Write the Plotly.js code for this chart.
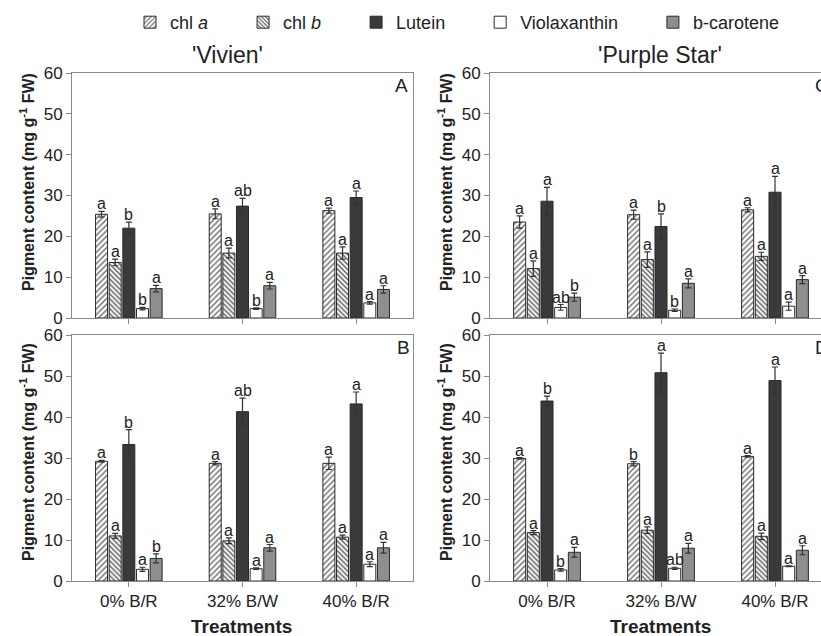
<!DOCTYPE html>
<html><head><meta charset="utf-8">
<script src="https://cdn.plot.ly/plotly-3.0.1.min.js"></script>
<style>html,body{margin:0;padding:0;overflow:hidden;background:#fff}#chart{width:840px;height:636px}</style>
</head><body><div id="chart"></div>
<script>
// ---------------- DATA ----------------
const categories = ['0% B/R', '32% B/W', '40% B/R'];
const pigmentNames = ['chl <i>a</i>', 'chl <i>b</i>', 'Lutein', 'Violaxanthin', 'b-carotene'];

// Panel A ('Vivien', top)
const A_chla = [25.4, 25.5, 26.3];   const A_chla_err = [0.7, 1.2, 0.6];
const A_chlb = [13.6, 15.9, 15.9];   const A_chlb_err = [0.8, 1.2, 1.5];
const A_lut  = [22.0, 27.4, 29.5];   const A_lut_err  = [1.5, 1.9, 1.6];
const A_vio  = [2.3, 2.3, 3.7];      const A_vio_err  = [0.3, 0.2, 0.3];
const A_bcar = [7.2, 7.9, 7.0];      const A_bcar_err = [0.8, 0.8, 0.9];
const A_letters = [['a','a','a'], ['a','a','a'], ['b','ab','a'], ['b','b','a'], ['a','a','a']];

// Panel C ('Purple Star', top)
const C_chla = [23.5, 25.3, 26.5];   const C_chla_err = [1.5, 1.1, 0.5];
const C_chlb = [12.1, 14.3, 15.1];   const C_chlb_err = [1.9, 1.9, 1.0];
const C_lut  = [28.6, 22.4, 30.8];   const C_lut_err  = [3.4, 3.1, 3.9];
const C_vio  = [2.6, 1.9, 2.9];      const C_vio_err  = [0.7, 0.3, 1.0];
const C_bcar = [5.1, 8.5, 9.4];      const C_bcar_err = [1.0, 1.1, 1.0];
const C_letters = [['a','a','a'], ['a','a','a'], ['a','b','a'], ['ab','b','a'], ['b','a','a']];

// Panel B ('Vivien', bottom)
const B_chla = [29.2, 28.7, 28.7];   const B_chla_err = [0.2, 0.4, 1.5];
const B_chlb = [11.0, 9.8, 10.7];    const B_chlb_err = [0.6, 0.7, 0.5];
const B_lut  = [33.3, 41.3, 43.2];   const B_lut_err  = [3.6, 3.3, 2.9];
const B_vio  = [2.85, 3.0, 4.1];     const B_vio_err  = [0.5, 0.2, 0.6];
const B_bcar = [5.5, 8.1, 8.1];      const B_bcar_err = [1.1, 0.8, 1.3];
const B_letters = [['a','a','a'], ['a','a','a'], ['b','ab','a'], ['a','a','a'], ['b','a','a']];

// Panel D ('Purple Star', bottom)
const D_chla = [29.9, 28.6, 30.4];   const D_chla_err = [0.2, 0.5, 0.2];
const D_chlb = [11.8, 12.4, 10.9];   const D_chlb_err = [0.5, 0.8, 0.8];
const D_lut  = [43.9, 50.8, 48.9];   const D_lut_err  = [1.2, 4.8, 3.3];
const D_vio  = [2.7, 3.1, 3.6];      const D_vio_err  = [0.3, 0.25, 0.1];
const D_bcar = [7.0, 8.0, 7.5];      const D_bcar_err = [1.2, 1.2, 1.1];
const D_letters = [['a','b','a'], ['a','a','a'], ['b','a','a'], ['b','ab','a'], ['a','a','a']];

// ---------------- STYLE / LAYOUT ----------------
const W = 840, H = 636;
const px = p => p / W, py = p => 1 - p / H;
const FONT = 'Liberation Sans, Arial, sans-serif';
const BARGAP = 0.4, GROUPGAP = 0.12;

const styles = [
  {color: '#ffffff', pattern: {shape: '/', fgcolor: '#6a6a6a', bgcolor: '#ffffff', size: 4, solidity: 0.35}},
  {color: '#ffffff', pattern: {shape: '\\', fgcolor: '#555555', bgcolor: '#ffffff', size: 3.5, solidity: 0.4}},
  {color: '#3a3a3a'},
  {color: '#ffffff'},
  {color: '#8e8e8e'}
];

const panels = [
  {xa: 'x',  ya: 'y',  vals: [A_chla, A_chlb, A_lut, A_vio, A_bcar], errs: [A_chla_err, A_chlb_err, A_lut_err, A_vio_err, A_bcar_err], letters: A_letters, legend: true},
  {xa: 'x2', ya: 'y2', vals: [C_chla, C_chlb, C_lut, C_vio, C_bcar], errs: [C_chla_err, C_chlb_err, C_lut_err, C_vio_err, C_bcar_err], letters: C_letters, legend: false},
  {xa: 'x3', ya: 'y3', vals: [B_chla, B_chlb, B_lut, B_vio, B_bcar], errs: [B_chla_err, B_chlb_err, B_lut_err, B_vio_err, B_bcar_err], letters: B_letters, legend: false},
  {xa: 'x4', ya: 'y4', vals: [D_chla, D_chlb, D_lut, D_vio, D_bcar], errs: [D_chla_err, D_chlb_err, D_lut_err, D_vio_err, D_bcar_err], letters: D_letters, legend: false}
];

const PAD = '\u00A0'.repeat(6);
const traces = [];
const annotations = [];
const nS = pigmentNames.length;
const slot = (1 - BARGAP) / nS;

panels.forEach(p => {
  p.vals.forEach((v, i) => {
    const st = styles[i];
    traces.push({
      type: 'bar', x: categories, y: v, xaxis: p.xa, yaxis: p.ya,
      name: pigmentNames[i] + (i < nS - 1 ? PAD : ''), legendgroup: 'g' + i, showlegend: p.legend,
      marker: Object.assign({line: {color: '#2a2a2a', width: 1}}, st),
      error_y: {type: 'data', array: p.errs[i], visible: true, color: '#333333', thickness: 1.2, width: 3},
      hoverinfo: 'skip'
    });
    v.forEach((val, j) => {
      annotations.push({
        xref: p.xa, yref: p.ya,
        x: j - (1 - BARGAP) / 2 + slot * (i + 0.5),
        y: val + p.errs[i][j],
        text: p.letters[i][j], showarrow: false, yanchor: 'bottom', yshift: -3,
        font: {family: FONT, size: 16, color: '#222'}
      });
    });
  });
});

// panel titles, panel letters, axis titles
const txt = (x, y, text, size, extra) => Object.assign({xref: 'paper', yref: 'paper', x: px(x), y: py(y), text: text,
  showarrow: false, xanchor: 'center', yanchor: 'middle', font: {family: FONT, size: size, color: '#222'}}, extra || {});
annotations.push(txt(228, 55, "'Vivien'", 23));
annotations.push(txt(660, 55, "'Purple Star'", 23));
annotations.push(txt(401, 85, 'A', 19));
annotations.push(txt(403, 347, 'B', 19));
annotations.push(txt(822, 85, 'C', 19));
annotations.push(txt(822, 347, 'D', 19));
const ytitle = '<b>Pigment content (mg g<sup>-1</sup> FW)</b>';
annotations.push(txt(27, 182, ytitle, 16, {textangle: -90}));
annotations.push(txt(27, 452, ytitle, 16, {textangle: -90}));
annotations.push(txt(445, 182, ytitle, 16, {textangle: -90}));
annotations.push(txt(445, 452, ytitle, 16, {textangle: -90}));
annotations.push(txt(242, 626, '<b>Treatments</b>', 19));
annotations.push(txt(660, 626, '<b>Treatments</b>', 19));

const xBase = (dom, anchor, labels) => ({
  domain: dom, anchor: anchor, type: 'category', range: [-0.5, 2.5],
  showline: true, mirror: true, linecolor: '#8a8a8a', linewidth: 1,
  ticks: 'outside', ticklen: 5, tickcolor: '#8a8a8a', showgrid: false, zeroline: false,
  showticklabels: labels, tickfont: {family: FONT, size: 17, color: '#222'}, fixedrange: true
});
const yBase = (dom, anchor) => ({
  domain: dom, anchor: anchor, range: [0, 60], tick0: 0, dtick: 10,
  showline: true, mirror: true, linecolor: '#8a8a8a', linewidth: 1,
  ticks: 'outside', ticklen: 5, tickcolor: '#8a8a8a', showgrid: false, zeroline: false,
  tickfont: {family: FONT, size: 17, color: '#222'}, fixedrange: true
});

const xL = [px(72), px(413)], xR = [px(490), px(832)];
const yT = [py(318), py(73)], yB = [py(581), py(335)];

const layout = {
  width: W, height: H, margin: {l: 0, r: 0, t: 0, b: 0},
  paper_bgcolor: '#fff', plot_bgcolor: '#fff',
  barmode: 'group', bargap: BARGAP, bargroupgap: GROUPGAP,
  font: {family: FONT, color: '#222'},
  showlegend: true,
  legend: {orientation: 'h', x: px(130), xanchor: 'left', y: py(4), yanchor: 'top',
           font: {family: FONT, size: 18, color: '#222'}, bgcolor: 'rgba(0,0,0,0)', traceorder: 'normal'},
  xaxis: xBase(xL, 'y', false),  yaxis: yBase(yT, 'x'),
  xaxis2: xBase(xR, 'y2', false), yaxis2: yBase(yT, 'x2'),
  xaxis3: xBase(xL, 'y3', true),  yaxis3: yBase(yB, 'x3'),
  xaxis4: xBase(xR, 'y4', true),  yaxis4: yBase(yB, 'x4'),
  annotations: annotations
};

Plotly.newPlot('chart', traces, layout, {displayModeBar: false, staticPlot: true});
</script>
</body></html>
